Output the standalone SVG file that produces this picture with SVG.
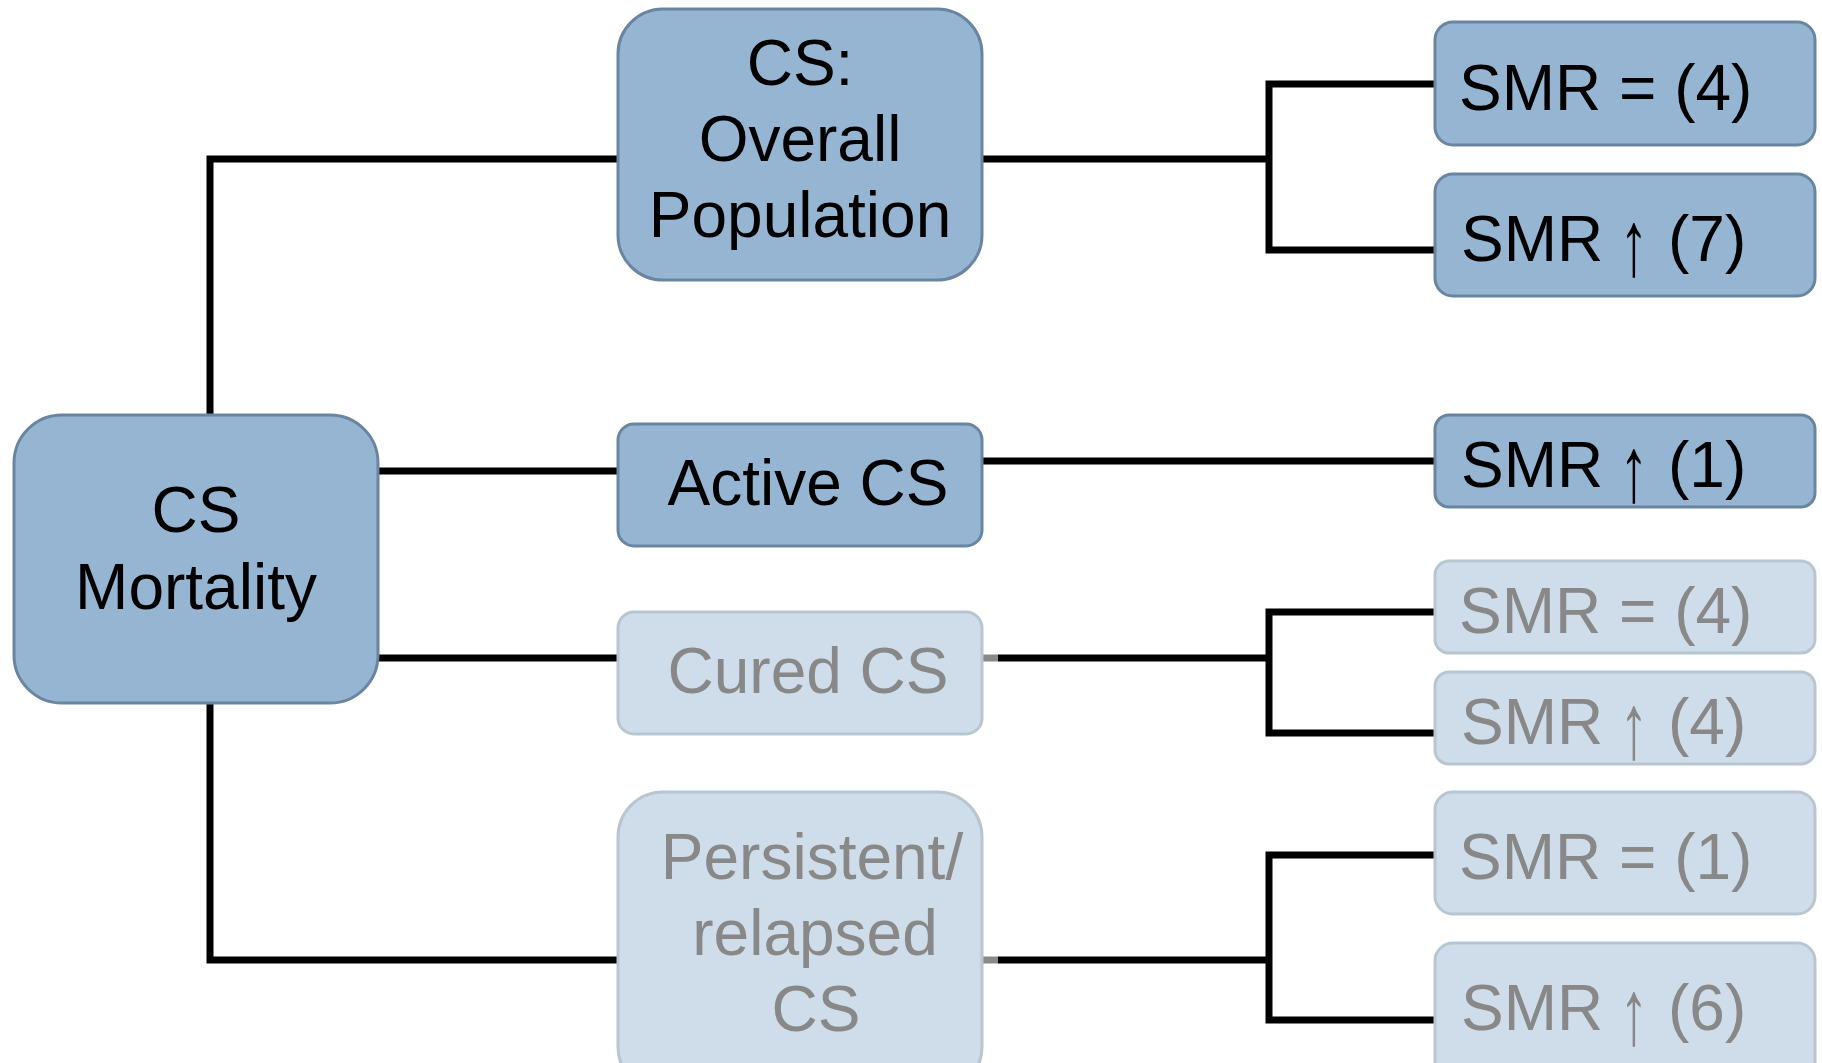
<svg xmlns="http://www.w3.org/2000/svg" width="1822" height="1063" viewBox="0 0 1822 1063">
<style>
.dk{fill:#95b5d3;stroke:#6a859f;stroke-width:3}
.lt{fill:#cedde9;stroke:#b8c6d2;stroke-width:3}
text{font-family:"Liberation Sans",Arial,sans-serif;font-size:64px}
.tk{fill:#000}
.tg{fill:#888888}
.ar{text-anchor:middle}
.c{fill:none;stroke:#000;stroke-width:7}
</style>
<rect width="1822" height="1063" fill="#fff"/>
<g id="connectors">
<polyline class="c" points="210,416 210,159 618,159"/>
<line class="c" x1="378" y1="471" x2="618" y2="471"/>
<line class="c" x1="378" y1="658" x2="618" y2="658"/>
<polyline class="c" points="210,703 210,960 618,960"/>
<line class="c" x1="982" y1="159" x2="1269" y2="159"/>
<polyline class="c" points="1435,84 1269,84 1269,250 1435,250"/>
<line class="c" x1="982" y1="461" x2="1435" y2="461"/>
<line x1="982" y1="658" x2="998" y2="658" stroke="#888" stroke-width="7"/>
<line class="c" x1="998" y1="658" x2="1269" y2="658"/>
<polyline class="c" points="1435,612 1269,612 1269,733 1435,733"/>
<line x1="982" y1="960" x2="998" y2="960" stroke="#888" stroke-width="7"/>
<line class="c" x1="998" y1="960" x2="1269" y2="960"/>
<polyline class="c" points="1435,855 1269,855 1269,1020 1435,1020"/>
</g>
<g id="cs-mortality">
<rect class="dk" x="14" y="415" width="364" height="288" rx="48"/>
<text class="tk" x="196" y="532" text-anchor="middle">CS</text>
<text class="tk" x="196" y="609" text-anchor="middle">Mortality</text>
</g>
<g id="overall">
<rect class="dk" x="618" y="9" width="364" height="271" rx="45"/>
<text class="tk" x="800" y="85" text-anchor="middle">CS:</text>
<text class="tk" x="800" y="161" text-anchor="middle">Overall</text>
<text class="tk" x="800" y="237" text-anchor="middle">Population</text>
</g>
<g id="active">
<rect class="dk" x="618" y="424" width="364" height="122" rx="16"/>
<text class="tk" x="808" y="505" text-anchor="middle">Active CS</text>
</g>
<g id="cured">
<rect class="lt" x="618" y="612" width="364" height="122" rx="16"/>
<text class="tg" x="808" y="693" text-anchor="middle">Cured CS</text>
</g>
<g id="persistent">
<rect class="lt" x="618" y="792" width="364" height="300" rx="45"/>
<text class="tg" x="812" y="879" text-anchor="middle">Persistent/</text>
<text class="tg" x="815" y="955" text-anchor="middle">relapsed</text>
<text class="tg" x="816" y="1031" text-anchor="middle">CS</text>
</g>
<g id="smr1">
<rect class="dk" x="1435" y="22" width="380" height="123" rx="18"/>
<text class="tk" x="1459" y="110">SMR = (4)</text>
</g>
<g id="smr2">
<rect class="dk" x="1435" y="174" width="380" height="122" rx="18"/>
<text class="tk" x="1461" y="261">SMR</text>
<text class="tk ar" transform="translate(1634,275) scale(0.9,1.45)">↑</text>
<text class="tk" x="1668" y="261">(7)</text>
</g>
<g id="smr3">
<rect class="dk" x="1435" y="415" width="380" height="92" rx="14"/>
<text class="tk" x="1461" y="487">SMR</text>
<text class="tk ar" transform="translate(1634,501) scale(0.9,1.45)">↑</text>
<text class="tk" x="1668" y="487">(1)</text>
</g>
<g id="smr4">
<rect class="lt" x="1435" y="561" width="380" height="92" rx="14"/>
<text class="tg" x="1459" y="633">SMR = (4)</text>
</g>
<g id="smr5">
<rect class="lt" x="1435" y="672" width="380" height="92" rx="14"/>
<text class="tg" x="1461" y="744">SMR</text>
<text class="tg ar" transform="translate(1634,758) scale(0.9,1.45)">↑</text>
<text class="tg" x="1668" y="744">(4)</text>
</g>
<g id="smr6">
<rect class="lt" x="1435" y="792" width="380" height="122" rx="18"/>
<text class="tg" x="1459" y="879">SMR = (1)</text>
</g>
<g id="smr7">
<rect class="lt" x="1435" y="943" width="380" height="140" rx="18"/>
<text class="tg" x="1461" y="1030">SMR</text>
<text class="tg ar" transform="translate(1634,1044) scale(0.9,1.45)">↑</text>
<text class="tg" x="1668" y="1030">(6)</text>
</g>
</svg>
